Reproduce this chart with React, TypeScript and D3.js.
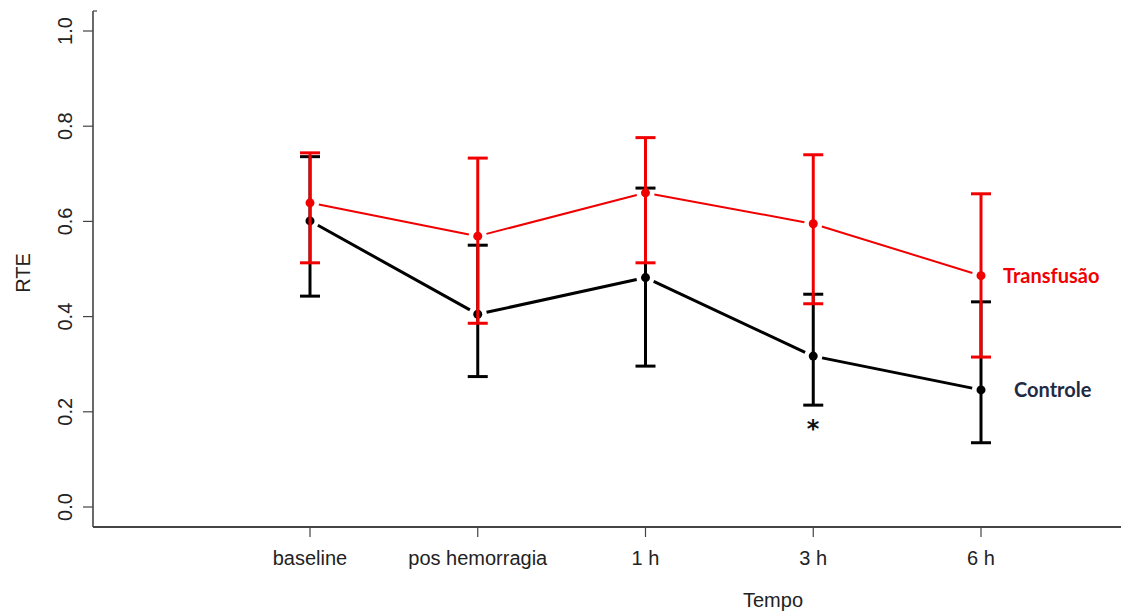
import React from "react";
import * as d3 from "d3";

const categories = ["baseline", "pos hemorragia", "1 h", "3 h", "6 h"];
const yTicks = [0, 0.2, 0.4, 0.6, 0.8, 1.0];

// Transfusão group: mean and error-bar limits
const transfMean = [0.639, 0.569, 0.66, 0.595, 0.486];
const transfUpper = [0.744, 0.733, 0.776, 0.74, 0.658];
const transfLower = [0.513, 0.386, 0.513, 0.427, 0.315];

// Controle group
const ctrlMean = [0.601, 0.405, 0.482, 0.317, 0.246];
const ctrlUpper = [0.736, 0.55, 0.67, 0.447, 0.431];
const ctrlLower = [0.443, 0.274, 0.296, 0.214, 0.135];

const W = 1121;
const H = 615;
const axisX = 93;
const axisY = 527;

const x = d3.scaleLinear().domain([0, categories.length - 1]).range([310, 981]);
const y = d3.scaleLinear().domain([0, 1]).range([507, 31]);

const RED = "#f00000";
const BLACK = "#000000";

// Segments between consecutive points, shortened at both ends (R type = "b")
function gappedSegments(vals: number[], gap: number) {
  const segs: { x1: number; y1: number; x2: number; y2: number }[] = [];
  for (let i = 0; i < vals.length - 1; i++) {
    const ax = x(i), ay = y(vals[i]);
    const bx = x(i + 1), by = y(vals[i + 1]);
    const dx = bx - ax, dy = by - ay;
    const len = Math.hypot(dx, dy);
    const ux = dx / len, uy = dy / len;
    segs.push({ x1: ax + ux * gap, y1: ay + uy * gap, x2: bx - ux * gap, y2: by - uy * gap });
  }
  return segs;
}

function Series({ mean, upper, lower, color, lineW, barW, r }: any) {
  const capHalf = 10;
  return (
    <g>
      {gappedSegments(mean, 9).map((s, i) => (
        <line key={"s" + i} {...s} stroke={color} strokeWidth={lineW} />
      ))}
      {mean.map((_: number, i: number) => (
        <g key={"e" + i} stroke={color} strokeWidth={barW}>
          <line x1={x(i)} x2={x(i)} y1={y(upper[i])} y2={y(lower[i])} />
          <line x1={x(i) - capHalf} x2={x(i) + capHalf} y1={y(upper[i])} y2={y(upper[i])} />
          <line x1={x(i) - capHalf} x2={x(i) + capHalf} y1={y(lower[i])} y2={y(lower[i])} />
        </g>
      ))}
      {mean.map((v: number, i: number) => (
        <circle key={"p" + i} cx={x(i)} cy={y(v)} r={r} fill={color} />
      ))}
    </g>
  );
}

export default function App() {
  const axisFont = "Liberation Sans, Arial, sans-serif";
  return (
    <svg width={W} height={H} style={{ position: "absolute", left: 0, top: 0, background: "#fff" }}>
      <rect width={W} height={H} fill="#fff" />
      {/* axes */}
      <g stroke="#444" fill="none">
        <line x1={axisX} x2={axisX} y1={11} y2={axisY} strokeWidth={1.6} />
        <line x1={axisX} x2={97} y1={11} y2={11} strokeWidth={1.2} />
        <line x1={axisX} x2={W} y1={axisY} y2={axisY} strokeWidth={1.8} />
        {yTicks.map((t) => (
          <line key={t} x1={83} x2={axisX} y1={y(t)} y2={y(t)} strokeWidth={1.2} />
        ))}
        {categories.map((c, i) => (
          <line key={c} x1={x(i)} x2={x(i)} y1={axisY} y2={537} strokeWidth={1.2} />
        ))}
      </g>
      <g fontFamily={axisFont} fontSize={20} fill="#222">
        {yTicks.map((t) => (
          <text key={t} x={72} y={y(t)} textAnchor="middle" transform={`rotate(-90, 72, ${y(t)})`}>
            {t.toFixed(1)}
          </text>
        ))}
        {categories.map((c, i) => (
          <text key={c} x={x(i)} y={565} textAnchor="middle">
            {c}
          </text>
        ))}
        <text x={773} y={607} textAnchor="middle">Tempo</text>
        <text x={30} y={273} textAnchor="middle" transform="rotate(-90, 30, 273)">RTE</text>
      </g>

      <Series mean={ctrlMean} upper={ctrlUpper} lower={ctrlLower} color={BLACK} lineW={3} barW={3} r={4.5} />
      <Series mean={transfMean} upper={transfUpper} lower={transfLower} color={RED} lineW={2} barW={3} r={4.5} />

      <text x={813} y={437} textAnchor="middle" fontFamily="DejaVu Sans, sans-serif" fontWeight="bold" fontSize={24} fill="#111">*</text>

      <g fontFamily="Lato, sans-serif" fontWeight="bold" fontSize={20}>
        <text x={1003} y={283} fill={RED}>Transfusão</text>
        <text x={1014} y={397} fill="#1f2a44">Controle</text>
      </g>
    </svg>
  );
}
